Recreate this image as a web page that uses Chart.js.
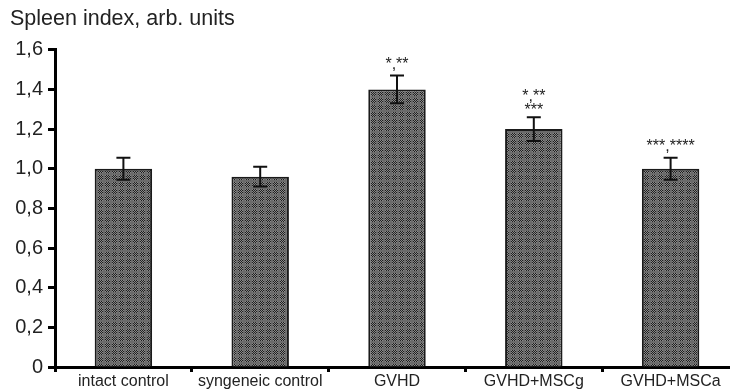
<!DOCTYPE html>
<html>
<head>
<meta charset="utf-8">
<script src="https://cdn.jsdelivr.net/npm/chart.js@4/dist/chart.umd.min.js"></script>
<style>
  html, body { margin: 0; padding: 0; background: #fff; overflow: hidden; }
  #wrap { position: relative; width: 745px; height: 390px; }
</style>
</head>
<body>
<div id="wrap"><canvas id="myChart"></canvas></div>
<script>
// data
const groups = ['intact control', 'syngeneic control', 'GVHD', 'GVHD+MSCg', 'GVHD+MSCa'];
const spleenIndex = [1.00, 0.96, 1.40, 1.20, 1.00];
const errors = [0.055, 0.05, 0.07, 0.06, 0.055];
const significance = [[], [], ['*,**'], ['*,**', '***'], ['***,****']];
const yTicks = [0, 0.2, 0.4, 0.6, 0.8, 1.0, 1.2, 1.4, 1.6];

const FONT = '"Liberation Sans", Arial, sans-serif';

// dithered grey fill like the original figure
function makePattern() {
    const c = document.createElement('canvas');
    c.width = 7; c.height = 7;
    const g = c.getContext('2d');
    for (let y = 0; y < 7; y++) {
        for (let x = 0; x < 7; x++) {
            if (x < 5 && y < 5) g.fillStyle = (x + y) % 2 ? '#1e1e1e' : '#8a8a8a';
            else g.fillStyle = '#6a6a6a';
            g.fillRect(x, y, 1, 1);
        }
    }
    return g.createPattern(c, 'repeat');
}

const errorBars = {
    id: 'errorBars',
    afterDatasetsDraw(chart) {
        const ctx = chart.ctx;
        const meta = chart.getDatasetMeta(0);
        const y = chart.scales.y;
        ctx.save();
        ctx.strokeStyle = '#111';
        ctx.lineWidth = 2;
        meta.data.forEach((bar, i) => {
            const v = spleenIndex[i], e = errors[i];
            const top = y.getPixelForValue(v + e);
            const bot = y.getPixelForValue(v - e);
            const cap = 7;
            ctx.beginPath();
            ctx.moveTo(bar.x, top); ctx.lineTo(bar.x, bot);
            ctx.moveTo(bar.x - cap, top); ctx.lineTo(bar.x + cap, top);
            ctx.moveTo(bar.x - cap, bot); ctx.lineTo(bar.x + cap, bot);
            ctx.stroke();
            // significance marks, two-line labels sit tighter to the cap
            ctx.fillStyle = '#222';
            ctx.font = '16px ' + FONT;
            ctx.textAlign = 'center';
            ctx.textBaseline = 'alphabetic';
            const lines = significance[i];
            const gap = lines.length > 1 ? 2 : 7;
            lines.forEach((t, k) => {
                const off = (lines.length - 1 - k) * 14;
                ctx.fillText(t, bar.x, top - gap - off);
            });
        });
        ctx.restore();
    }
};

new Chart(document.getElementById('myChart'), {
    type: 'bar',
    data: {
        labels: groups,
        datasets: [{
            data: spleenIndex,
            backgroundColor: makePattern(),
            borderColor: '#1a1a1a',
            borderWidth: 2,
            borderSkipped: 'bottom',
            categoryPercentage: 1,
            barPercentage: 0.42
        }]
    },
    options: {
        responsive: true,
        maintainAspectRatio: false,
        animation: false,
        layout: { padding: { left: 10, right: 6, top: 0, bottom: 0 } },
        plugins: {
            legend: { display: false },
            tooltip: { enabled: false },
            title: {
                display: true,
                text: 'Spleen index, arb. units',
                align: 'start',
                color: '#222',
                font: { family: FONT, size: 21.5, weight: 'normal' },
                padding: { top: 6, bottom: 18 }
            }
        },
        scales: {
            x: {
                offset: true,
                grid: { offset: true, drawOnChartArea: false, drawTicks: true, tickLength: 5, tickWidth: 3, tickColor: '#000' },
                border: { display: true, width: 3, color: '#000' },
                ticks: { color: '#222', padding: 0, maxRotation: 0, autoSkip: false, font: { family: FONT, size: 16 } },
                afterFit(scale) { scale.height = 23; }
            },
            y: {
                min: 0,
                max: 1.6,
                afterBuildTicks(scale) { scale.ticks = yTicks.map(v => ({ value: v })); },
                grid: { drawOnChartArea: false, drawTicks: true, tickLength: 7, tickWidth: 3, tickColor: '#000' },
                border: { display: true, width: 3, color: '#000' },
                ticks: {
                    color: '#222',
                    padding: 5,
                    font: { family: FONT, size: 20 },
                    callback: v => v === 0 ? '0' : v.toFixed(1).replace('.', ',')
                },
                afterFit(scale) { scale.width = 45; }
            }
        }
    },
    plugins: [errorBars]
});
</script>
</body>
</html>
